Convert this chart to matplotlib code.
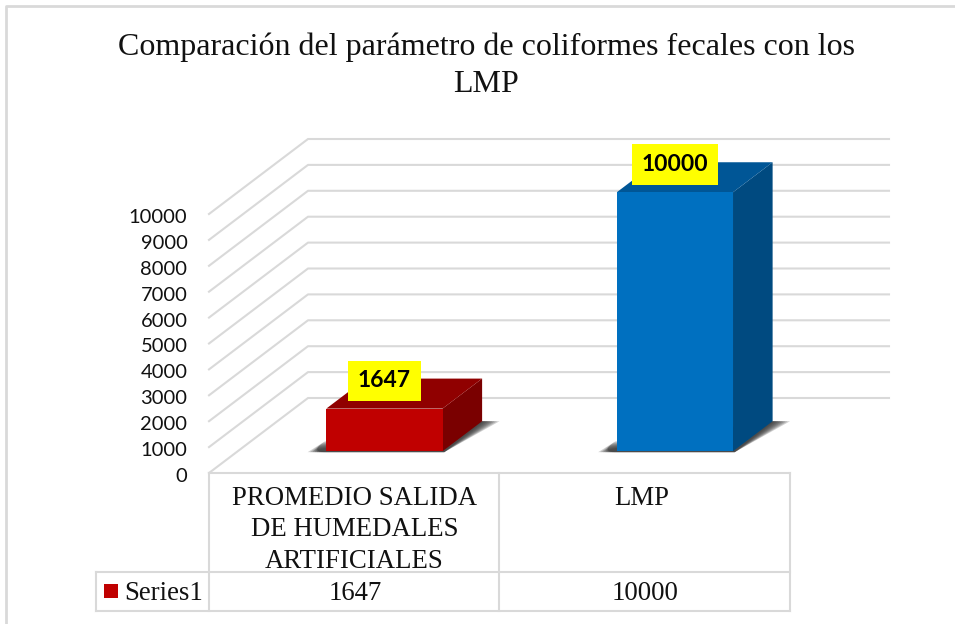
import matplotlib
matplotlib.use('Agg')
import matplotlib.pyplot as plt
from matplotlib.patches import Polygon, Rectangle
from matplotlib.transforms import ScaledTranslation

# data
categories = ['PROMEDIO SALIDA\nDE HUMEDALES\nARTIFICIALES', 'LMP']
values = [1647, 10000]
series_name = 'Series1'
y_ticks = [0, 1000, 2000, 3000, 4000, 5000, 6000, 7000, 8000, 9000, 10000]
title = 'Comparación del parámetro de coliformes fecales con los\nLMP'

W, H = 955, 624
SERIF = 'Liberation Serif'
SANS = 'Lato'
GRID = '#d9d9d9'

# front, top, side colours per bar
bar_colors = [('#c00000', '#900000', '#7a0000'), ('#0070c0', '#005696', '#004a80')]

fig = plt.figure(figsize=(W / 100, H / 100), dpi=100)

# pixel axes for the frame, title and data table
bg = fig.add_axes([0, 0, 1, 1])
bg.set_xlim(0, W)
bg.set_ylim(H, 0)
bg.axis('off')

bg.plot([6, 6, W], [H, 6, 6], color=GRID, lw=2)
bg.text(486, 66, title, family=SERIF, fontsize=23, ha='center', va='center',
        color='#111111', linespacing=1.36)

# data table
for xs, ys in [([209, 790], [473, 473]), ([96, 790], [572, 572]), ([96, 790], [611, 611]),
               ([96, 96], [572, 611]), ([209, 209], [473, 611]),
               ([499, 499], [473, 611]), ([790, 790], [473, 611])]:
    bg.plot(xs, ys, color=GRID, lw=1.5, solid_capstyle='projecting')

cat_x = [354.5, 642]
val_x = [355, 645]
for i, cat in enumerate(categories):
    bg.text(cat_x[i], 486, cat, family=SERIF, fontsize=19.3, ha='center', va='top',
            color='#111111', linespacing=1.33)
    bg.text(val_x[i], 594, str(values[i]), family=SERIF, fontsize=19.3, ha='center',
            va='center', color='#111111')
bg.add_patch(Rectangle((104, 584), 14, 14, color=bar_colors[0][0], lw=0))
bg.text(124, 594, series_name, family=SERIF, fontsize=19.3, ha='left', va='center',
        color='#111111')

# chart axes: the front plane of the 3D box
ax = fig.add_axes([209 / W, (H - 473) / H, 581 / W, 259 / H])
ax.patch.set_visible(False)
ax.set_xlim(0, 2)
ax.set_ylim(0, 10000)
for s in ax.spines.values():
    s.set_visible(False)
ax.set_xticks([])
ax.set_yticks(y_ticks)
ax.tick_params(axis='y', length=0, pad=15.5)
nudge = ScaledTranslation(0, -2 / 100, fig.dpi_scale_trans)
for lab in ax.get_yticklabels():
    lab.set_family(SANS)
    lab.set_fontsize(14.5)
    lab.set_color('#111111')
    lab.set_transform(lab.get_transform() + nudge)

# oblique projection, depth z goes 0 (front) to 1 (back wall)
DX = 99 / 290.5
DY = 75 / 259 * 10000


def proj(x, y, z):
    return (x + z * DX, y + z * DY)


# walls
for v in y_ticks:
    pts = [proj(0, v, 0), proj(0, v, 1), proj(2, v, 1)]
    ax.plot([p[0] for p in pts], [p[1] for p in pts], color=GRID, lw=1.5,
            clip_on=False, zorder=1)

bar_w = 0.4
z0, z1 = 0.29, 0.69
for i, v in enumerate(values):
    xc = i + 0.505
    x0 = xc - bar_w / 2
    x1 = x0 + bar_w
    front, top, side = bar_colors[i]

    # soft shadow on the floor
    for s in [0.06, 0.052, 0.044, 0.036, 0.028, 0.02, 0.012, 0.005]:
        ax.add_patch(Polygon([proj(x0 - s, 0, z0 - 0.012), proj(x1 + 0.01, 0, z0 - 0.012),
                              proj(x1 + s, 0, z1), proj(x1, 0, z1),
                              proj(x0 - 0.05, 0, z0 + 2.2 * s)],
                             closed=True, color='#303030', alpha=0.22, lw=0,
                             clip_on=False, zorder=2))

    ax.add_patch(Polygon([proj(x1, 0, z0), proj(x1, 0, z1), proj(x1, v, z1), proj(x1, v, z0)],
                         closed=True, color=side, lw=0, clip_on=False, zorder=3))
    ax.add_patch(Polygon([proj(x0, v, z0), proj(x1, v, z0), proj(x1, v, z1), proj(x0, v, z1)],
                         closed=True, color=top, lw=0, clip_on=False, zorder=3))
    ax.add_patch(Polygon([proj(x0, 0, z0), proj(x1, 0, z0), proj(x1, v, z0), proj(x0, v, z0)],
                         closed=True, color=front, lw=0, clip_on=False, zorder=4))

    # yellow value label
    ax.annotate(str(v), xy=proj(xc, v, z0), xytext=(0, 20), textcoords='offset points',
                ha='center', va='center', family=SANS, fontweight='bold', fontsize=16.5,
                color='black', zorder=6, annotation_clip=False,
                bbox=dict(boxstyle='square,pad=0.42', fc='#ffff00', ec='none'))

fig.savefig('out.png', dpi=100)
